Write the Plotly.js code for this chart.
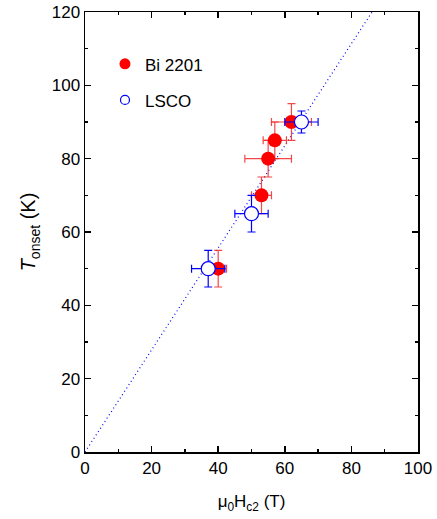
<!DOCTYPE html>
<html>
<head>
<meta charset="utf-8">
<script src="https://cdn.plot.ly/plotly-3.0.1.min.js"></script>
<style>html,body{margin:0;padding:0;background:#fff;}#chart{width:437px;height:519px;}</style>
</head>
<body>
<div id="chart"></div>
<script>
// Bi 2201 data
const biH = [40, 53, 55, 57, 62];
const biT = [50, 70, 80, 85, 90];
const biHerr = [2.5, 3, 7, 3.5, 6];
const biTerr = [5, 5, 5, 5, 5];
// LSCO data
const lsH = [37, 50, 65];
const lsT = [50, 65, 90];
const lsHerr = [5, 5, 5];
const lsTerr = [5, 5, 3];
// Guide line
const lineH = [0, 86.2];
const lineT = [0, 120];
// Ticks
const xTicks = [0, 20, 40, 60, 80, 100];
const yTicks = [0, 20, 40, 60, 80, 100, 120];

const font = 'Liberation Sans, Arial, sans-serif';

const traces = [
  {x: lineH, y: lineT, mode: 'lines', line: {color: 'blue', dash: '1px,3px', width: 1.2}, showlegend: false, hoverinfo: 'skip'},
  {x: biH, y: biT, mode: 'markers', name: 'Bi 2201', showlegend: false,
   marker: {color: 'red', size: 14, line: {width: 0}},
   error_x: {type: 'data', array: biHerr, visible: true, color: 'rgba(240,40,40,0.85)', thickness: 1.2, width: 4},
   error_y: {type: 'data', array: biTerr, visible: true, color: 'rgba(240,40,40,0.85)', thickness: 1.2, width: 4}},
  {x: lsH, y: lsT, mode: 'markers', name: 'LSCO', showlegend: false,
   marker: {color: 'white', size: 14, line: {color: 'blue', width: 1.2}},
   error_x: {type: 'data', array: lsHerr, visible: true, color: 'blue', thickness: 1.2, width: 4},
   error_y: {type: 'data', array: lsTerr, visible: true, color: 'blue', thickness: 1.2, width: 4}},
  {x: [null], y: [null], mode: 'markers', name: 'Bi 2201', legendgroup: 'a', marker: {color: 'red', size: 11}},
  {x: [null], y: [null], mode: 'markers', name: 'LSCO', legendgroup: 'b', marker: {color: 'white', size: 9, line: {color: 'blue', width: 1.2}}}
];

const axisCommon = {
  showline: true, linecolor: 'black', linewidth: 1.5, mirror: 'ticks',
  ticks: 'inside', ticklen: 6, tickwidth: 1.5, tickcolor: 'black',
  showgrid: false, zeroline: false,
  tickfont: {family: font, size: 17, color: 'black'},
  minor: {dtick: 10, ticks: 'inside', ticklen: 3, tickwidth: 1.5, tickcolor: 'black', showgrid: false}
};

const layout = {
  width: 437, height: 519,
  margin: {l: 85, r: 19, t: 12, b: 67},
  paper_bgcolor: 'white', plot_bgcolor: 'white',
  showlegend: true,
  legend: {x: 0.06, y: 0.922, xanchor: 'left', yanchor: 'top', bgcolor: 'rgba(0,0,0,0)',
           font: {family: font, size: 17, color: 'black'}, tracegroupgap: 11, itemwidth: 30},
  xaxis: Object.assign({}, axisCommon, {
    range: [0, 100], tickvals: xTicks,
    title: {text: 'μ<sub>0</sub>H<sub>c2</sub> (T)', font: {family: font, size: 17, color: 'black'}, standoff: 18}
  }),
  yaxis: Object.assign({}, axisCommon, {
    range: [0, 120], tickvals: yTicks,
    title: {text: '<i>T</i><sub>onset</sub> (K)', font: {family: font, size: 20, color: 'black'}, standoff: 10}
  })
};

Plotly.newPlot('chart', traces, layout, {displayModeBar: false, staticPlot: true});
</script>
</body>
</html>
